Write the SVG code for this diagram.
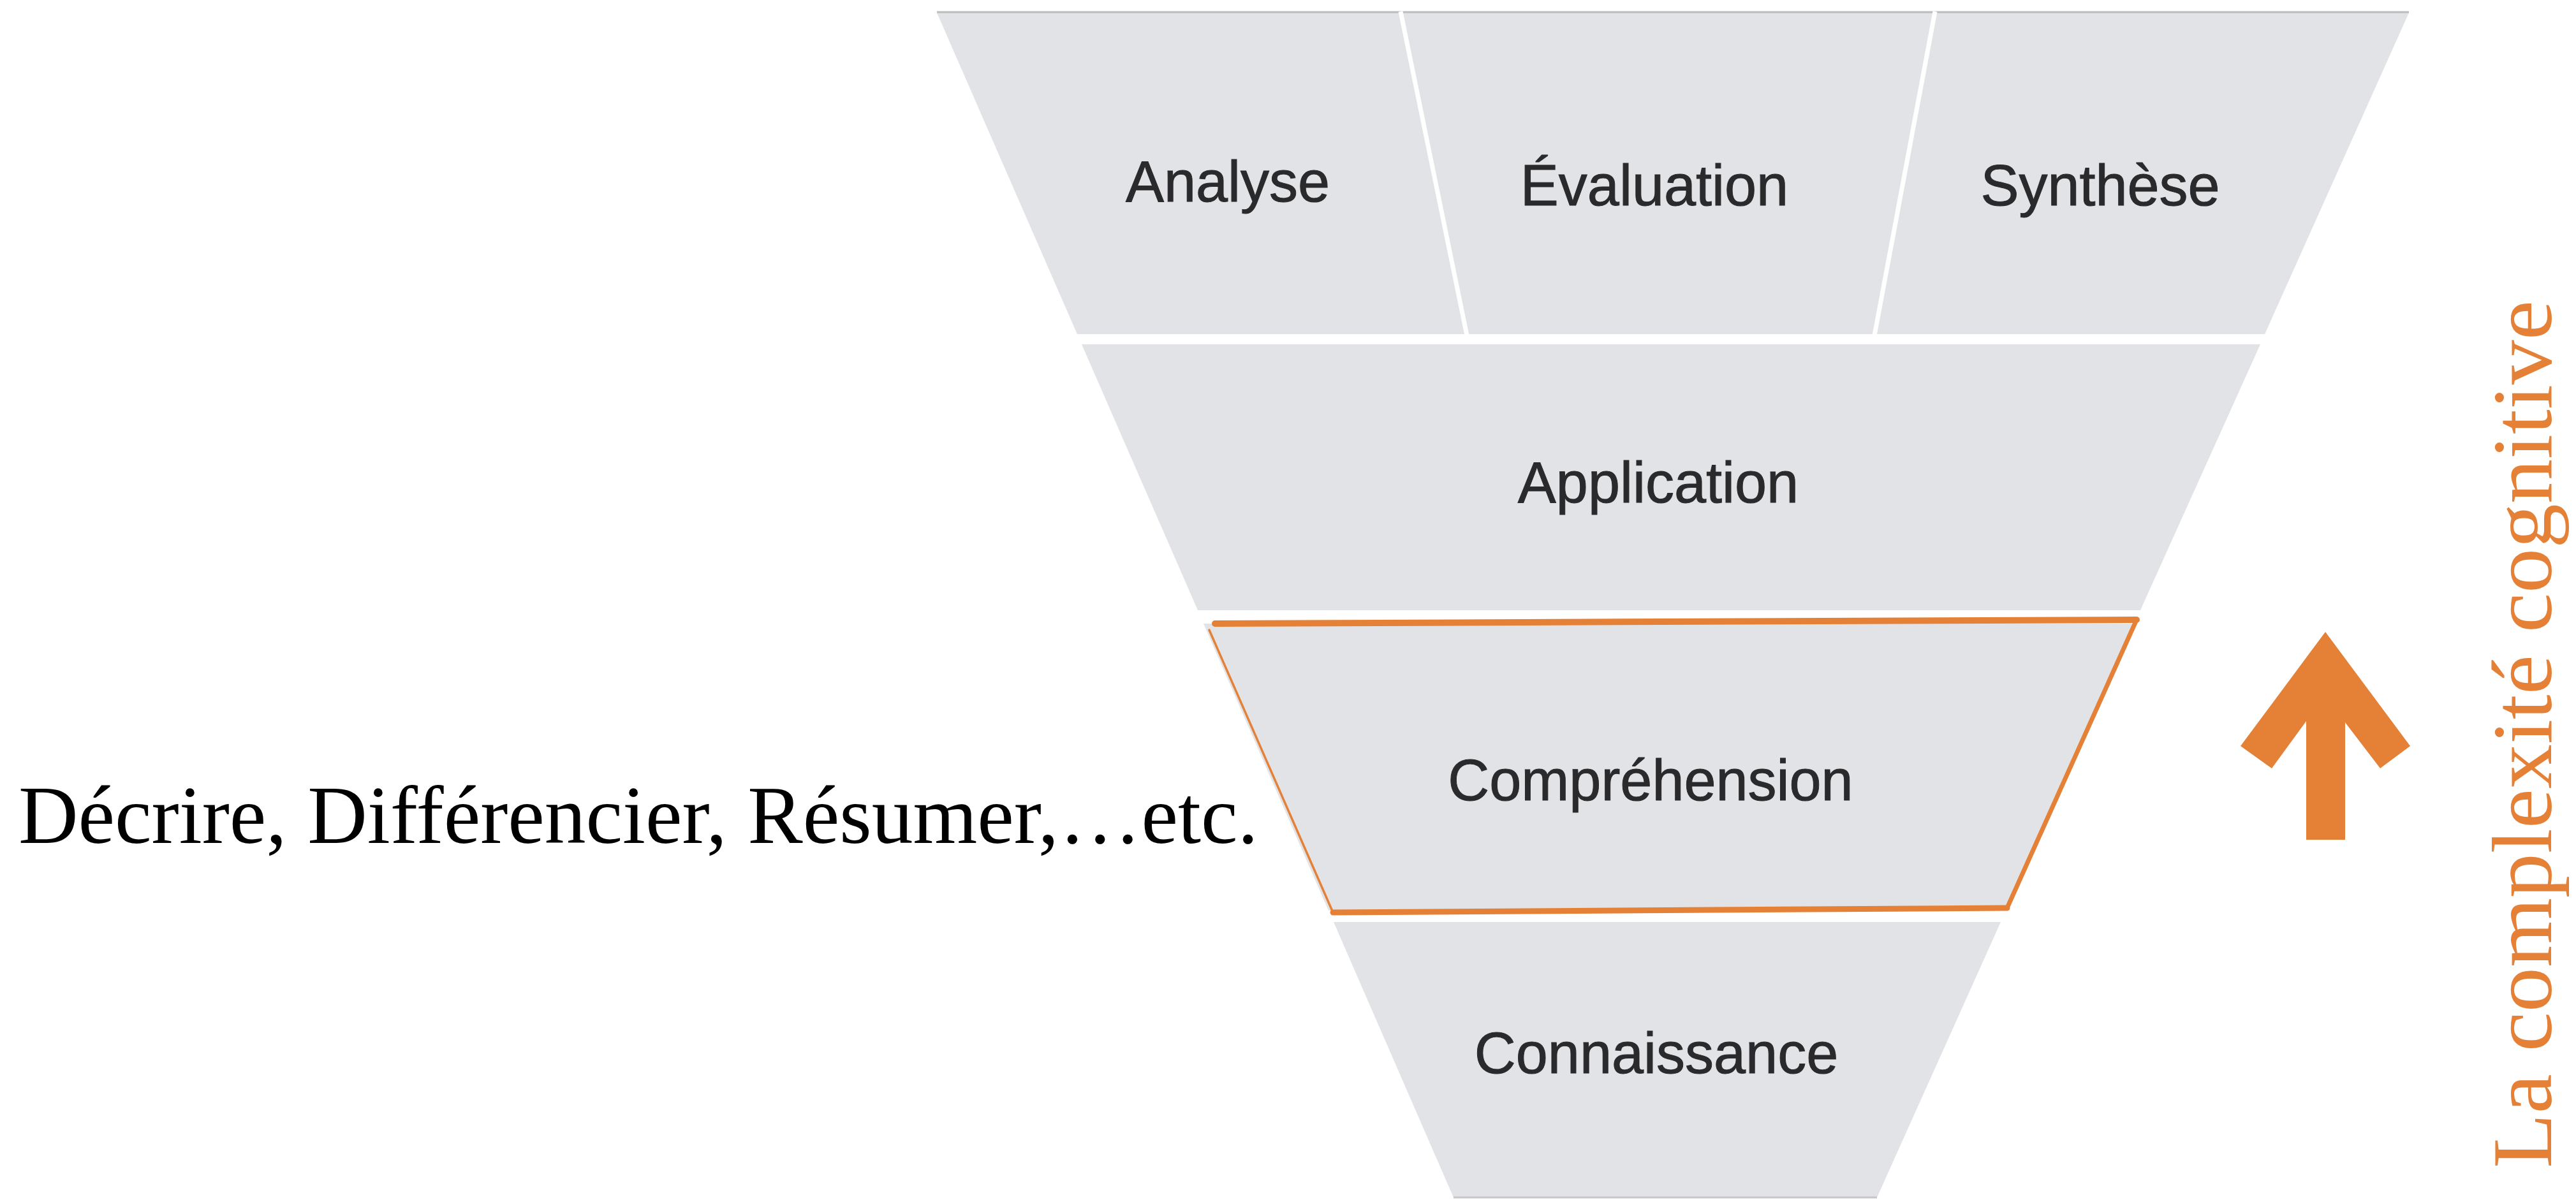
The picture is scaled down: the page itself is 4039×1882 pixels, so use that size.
<svg xmlns="http://www.w3.org/2000/svg" width="4039" height="1882" viewBox="0 0 4039 1882">
<style>
.tier{fill:#e2e3e6;}
.lbl{font-family:"Liberation Sans",Arial,sans-serif;font-size:90px;fill:#2a2a2c;stroke:#2a2a2c;stroke-width:1;text-anchor:middle;}
.div{stroke:#ffffff;stroke-width:7;fill:none;}
.orange{stroke:#e58037;fill:none;stroke-linejoin:miter;stroke-linecap:round;}
.serif{font-family:"Liberation Serif","Times New Roman",serif;}
</style>
<rect x="0" y="0" width="4039" height="1882" fill="#ffffff"/>

<g id="tier-top">
  <polygon class="tier" points="1469,20 3777,20 3551,524 1689,524"/>
  <line x1="1469" y1="19" x2="3777" y2="19" stroke="#bcbcbe" stroke-width="3"/>
  <line class="div" x1="2196" y1="18" x2="2300" y2="526"/>
  <line class="div" x1="3034" y1="18" x2="2939" y2="526"/>
</g>
<g id="analyse"><text class="lbl" x="1925" y="316">Analyse</text></g>
<g id="evaluation"><text class="lbl" x="2594" y="322">Évaluation</text></g>
<g id="synthese"><text class="lbl" x="3293" y="322">Synthèse</text></g>

<g id="application">
  <polygon class="tier" points="1696,540 3544,540 3356,957 1878,957"/>
  <text class="lbl" x="2600" y="788">Application</text>
</g>

<g id="comprehension">
  <polygon class="tier" points="1887,978 3347,978 3145,1428 2083,1428"/>
  <path class="orange" stroke-width="10" d="M1905,978 L3350,972"/>
  <path class="orange" stroke-width="7" d="M3350,972 L3147,1424"/>
  <path class="orange" stroke-width="9" d="M3147,1424 L2090,1431"/>
  <path class="orange" stroke-width="3.5" d="M2090,1431 L1896,988"/>
  <text class="lbl" x="2588" y="1255">Compréhension</text>
</g>

<g id="connaissance">
  <polygon class="tier" points="2091,1446 3137,1446 2943,1878 2279,1878"/>
  <line x1="2279" y1="1878" x2="2943" y2="1878" stroke="#c6c6c8" stroke-width="3"/>
  <text class="lbl" x="2597" y="1683">Connaissance</text>
</g>

<g id="verbs">
  <text class="serif" x="29" y="1322" font-size="130" fill="#000000" textLength="1944" lengthAdjust="spacingAndGlyphs">Décrire, Différencier, Résumer,…etc.</text>
</g>

<g id="arrow">
  <polygon fill="#e58037" points="3646,991 3779,1170 3732,1205 3677,1133 3677,1317 3616,1317 3616,1131 3562,1205 3513,1170"/>
</g>

<g id="axis-label">
  <text class="serif" transform="translate(4000,1832) rotate(-90)" x="0" y="0" font-size="134" fill="#e58037" textLength="1361" lengthAdjust="spacingAndGlyphs">La complexité cognitive</text>
</g>
</svg>
